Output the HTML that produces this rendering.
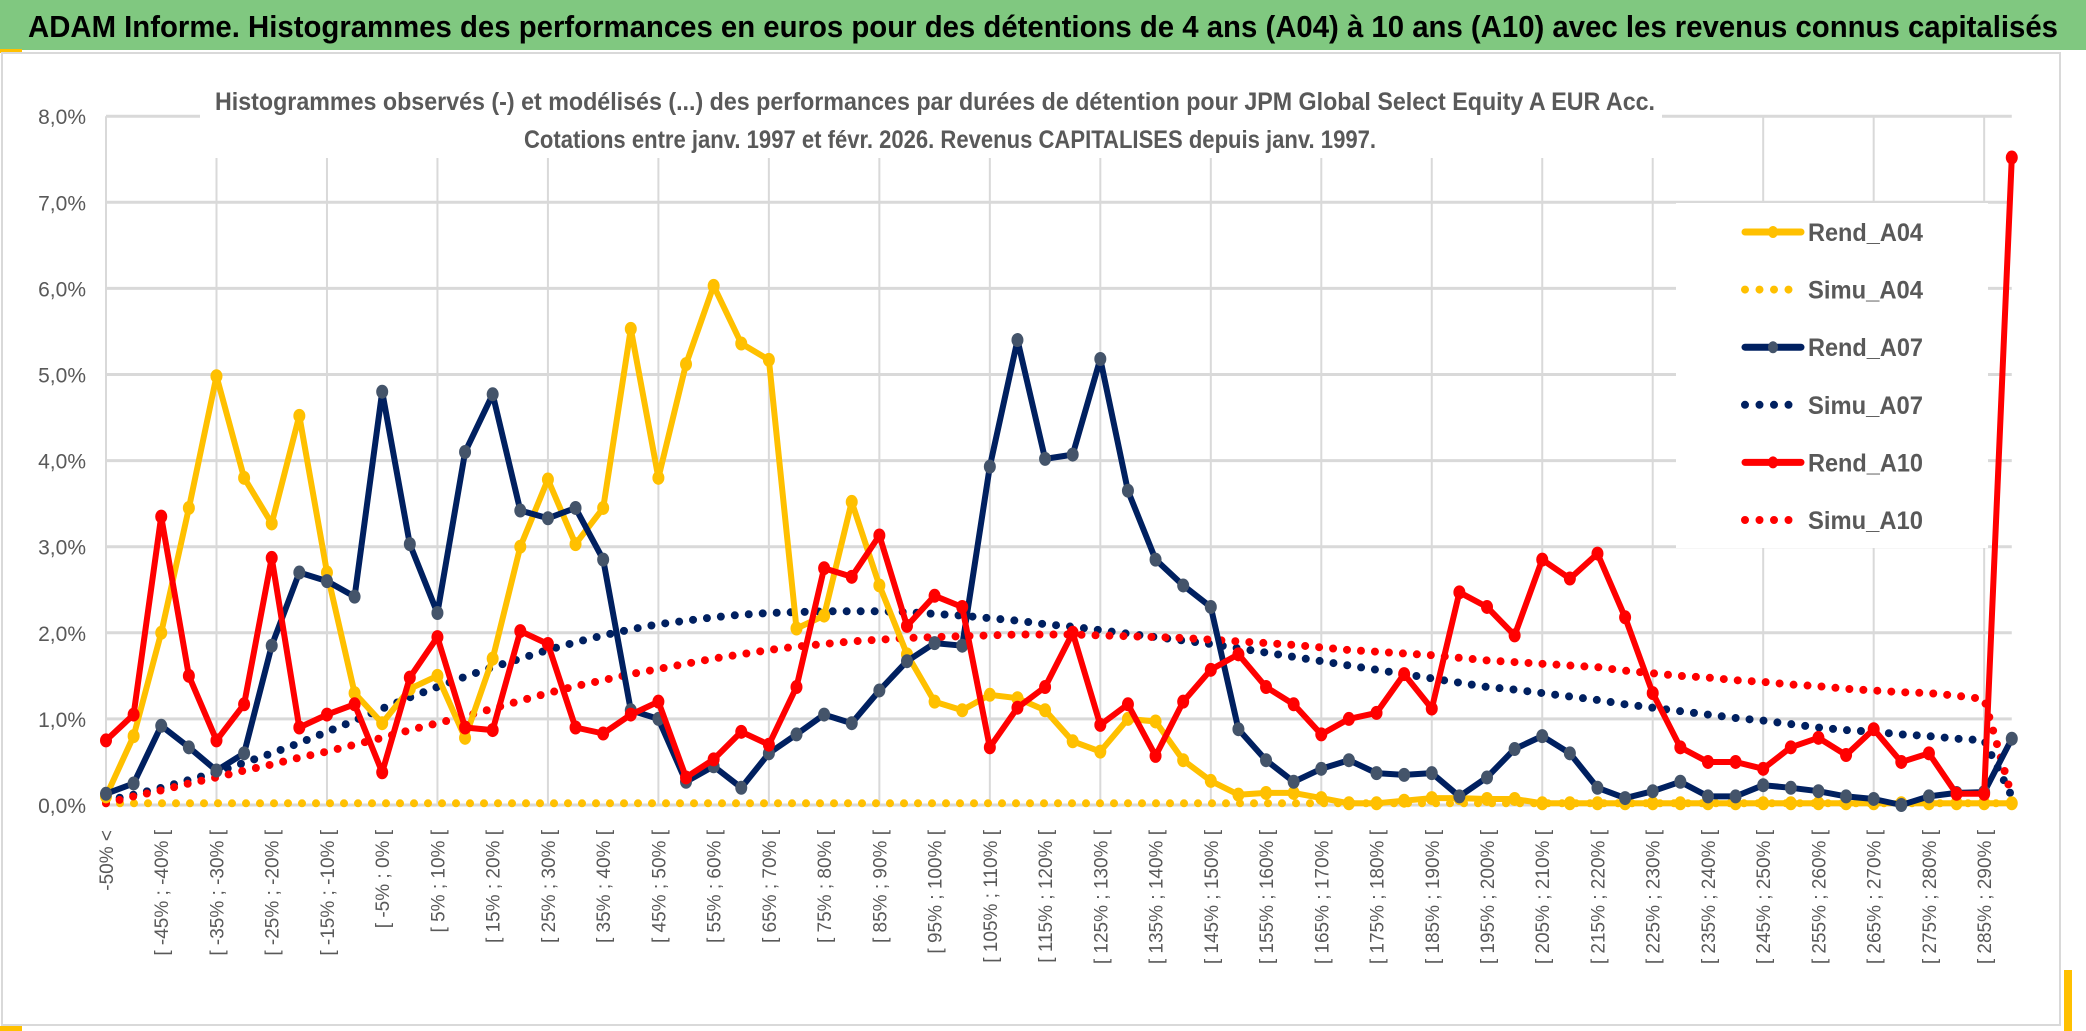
<!DOCTYPE html>
<html><head><meta charset="utf-8"><style>
html,body{margin:0;padding:0;background:#fff;}
svg{display:block;}
text{font-family:"Liberation Sans",sans-serif;}
</style></head><body>
<svg id="chart" width="2086" height="1031" viewBox="0 0 2086 1031" xmlns="http://www.w3.org/2000/svg">
<rect x="0" y="0" width="2086" height="1031" fill="#fff"/>
<rect x="0" y="0" width="2086" height="50" fill="#80C880"/>
<text x="1043" y="37" text-anchor="middle" font-size="31" font-weight="bold" fill="#000" textLength="2030" lengthAdjust="spacingAndGlyphs">ADAM Informe. Histogrammes des performances en euros pour des détentions de 4 ans (A04) à 10 ans (A10) avec les revenus connus capitalisés</text>
<rect x="0" y="49" width="22" height="4" fill="#FFC000"/>
<rect x="2" y="53" width="2058" height="972" fill="none" stroke="#D9D9D9" stroke-width="2"/>
<rect x="0" y="1026" width="22" height="5" fill="#FFC000"/>
<rect x="2064" y="970" width="8" height="61" fill="#FFC000"/>
<g id="grid"></g>
<rect x="200" y="84" width="1462" height="74" fill="#fff"/>
<text x="935" y="110" text-anchor="middle" font-size="25" font-weight="bold" fill="#595959" textLength="1440" lengthAdjust="spacingAndGlyphs">Histogrammes observés (-) et modélisés (...) des performances par durées de détention pour JPM Global Select Equity A EUR Acc.</text>
<text x="950" y="148" text-anchor="middle" font-size="25" font-weight="bold" fill="#595959" textLength="852" lengthAdjust="spacingAndGlyphs">Cotations entre janv. 1997 et févr. 2026. Revenus CAPITALISES depuis janv. 1997.</text>
<g id="axes"></g>
<g id="series"></g>
<g id="legend"></g>
</svg>
<script>
const catLower = [];
for (let i = 1; i < 70; i++) catLower.push(-55 + 5 * i);
const categories = ["-50% <"].concat(catLower.map(l => "[ " + l + "% ; " + (l + 5) + "% ["));
const yTicks = [0,1,2,3,4,5,6,7,8];
const yTickLabels = ["0,0%","1,0%","2,0%","3,0%","4,0%","5,0%","6,0%","7,0%","8,0%"];
const rendA04 = [0.1,0.8,2.0,3.45,4.98,3.8,3.27,4.52,2.7,1.3,0.95,1.35,1.5,0.78,1.7,3.0,3.78,3.03,3.45,5.53,3.8,5.12,6.03,5.36,5.17,2.05,2.2,3.52,2.55,1.75,1.2,1.1,1.28,1.24,1.1,0.74,0.62,1.0,0.97,0.52,0.28,0.12,0.14,0.14,0.08,0.02,0.02,0.05,0.08,0.08,0.07,0.07,0.02,0.02,0.02,0.02,0.02,0.02,0.02,0.02,0.02,0.02,0.02,0.02,0.02,0.02,0.02,0.02,0.02,0.02];
const simuA04 = [0.02,0.02,0.02,0.02,0.02,0.02,0.02,0.02,0.02,0.02,0.02,0.02,0.02,0.02,0.02,0.02,0.02,0.02,0.02,0.02,0.02,0.02,0.02,0.02,0.02,0.02,0.02,0.02,0.02,0.02,0.02,0.02,0.02,0.02,0.02,0.02,0.02,0.02,0.02,0.02,0.02,0.02,0.02,0.02,0.02,0.02,0.02,0.02,0.02,0.02,0.02,0.02,0.02,0.02,0.02,0.02,0.02,0.02,0.02,0.02,0.02,0.02,0.02,0.02,0.02,0.02,0.02,0.02,0.02,0.02];
const rendA07 = [0.13,0.25,0.92,0.67,0.4,0.6,1.85,2.7,2.6,2.42,4.8,3.03,2.23,4.1,4.77,3.42,3.33,3.45,2.85,1.1,1.0,0.27,0.45,0.2,0.6,0.82,1.05,0.95,1.33,1.67,1.88,1.85,3.93,5.4,4.02,4.07,5.18,3.65,2.85,2.55,2.3,0.88,0.52,0.27,0.42,0.52,0.37,0.35,0.37,0.1,0.32,0.65,0.8,0.6,0.2,0.08,0.16,0.27,0.1,0.1,0.23,0.2,0.16,0.1,0.07,0.0,0.1,0.14,0.15,0.77];
const simuA07 = [0.05,0.12,0.2,0.29,0.38,0.49,0.6,0.72,0.85,0.98,1.12,1.25,1.37,1.49,1.6,1.7,1.8,1.89,1.97,2.04,2.1,2.14,2.18,2.21,2.23,2.24,2.25,2.25,2.25,2.24,2.22,2.2,2.17,2.14,2.1,2.07,2.03,1.99,1.95,1.91,1.87,1.82,1.77,1.72,1.67,1.62,1.57,1.52,1.47,1.42,1.37,1.34,1.3,1.26,1.22,1.17,1.13,1.09,1.05,1.01,0.98,0.94,0.9,0.87,0.85,0.82,0.8,0.77,0.75,0.1];
const rendA10 = [0.75,1.05,3.35,1.5,0.75,1.17,2.87,0.9,1.05,1.17,0.38,1.48,1.95,0.9,0.87,2.02,1.87,0.9,0.83,1.05,1.2,0.32,0.53,0.85,0.7,1.37,2.75,2.65,3.13,2.08,2.43,2.3,0.67,1.13,1.37,2.0,0.93,1.17,0.57,1.2,1.57,1.75,1.37,1.17,0.82,1.0,1.07,1.52,1.12,2.47,2.3,1.97,2.85,2.63,2.92,2.18,1.3,0.67,0.5,0.5,0.42,0.67,0.78,0.58,0.88,0.5,0.6,0.13,0.13,7.52];
const simuA10 = [0.02,0.1,0.17,0.25,0.32,0.4,0.47,0.55,0.62,0.7,0.78,0.87,0.95,1.03,1.12,1.21,1.3,1.38,1.45,1.52,1.58,1.64,1.7,1.75,1.8,1.84,1.87,1.9,1.92,1.94,1.95,1.96,1.97,1.98,1.98,1.98,1.97,1.96,1.95,1.94,1.92,1.9,1.88,1.86,1.83,1.8,1.78,1.76,1.74,1.71,1.68,1.66,1.64,1.62,1.6,1.56,1.53,1.5,1.48,1.45,1.43,1.4,1.38,1.35,1.33,1.31,1.3,1.27,1.23,0.1];

const NS = "http://www.w3.org/2000/svg";
const X0 = 106, DX = 27.62, Y0 = 805, DY = 86.1;
function xScale(i){ return X0 + i * DX; }
function yScale(v){ return Y0 - v * DY; }
function mk(tag, attrs, parent){
  const e = document.createElementNS(NS, tag);
  for (const k in attrs) e.setAttribute(k, attrs[k]);
  parent.appendChild(e);
  return e;
}
const grid = document.getElementById("grid");
const axes = document.getElementById("axes");
const series = document.getElementById("series");
const legend = document.getElementById("legend");
const xEnd = xScale(categories.length - 1);

yTicks.forEach((t, k) => {
  const ln = mk("line", {x1: X0, x2: xEnd, y1: yScale(t), y2: yScale(t), stroke: "#D9D9D9", "stroke-width": 3}, grid);
  
  
  const tx = mk("text", {x: 86, y: yScale(t) + 8, "text-anchor": "end", "font-size": 21, fill: "#595959"}, axes);
  tx.textContent = yTickLabels[k];
  
  
});
for (let i = 0; i < categories.length; i += 4) {
  const ln = mk("line", {x1: xScale(i), x2: xScale(i), y1: yScale(8), y2: Y0, stroke: "#D9D9D9", "stroke-width": 2}, grid);
  
  
}
categories.forEach((c, i) => {
  if (i % 2 !== 0) return;
  const x = xScale(i), y = 830;
  const tx = mk("text", {x: x, y: y, transform: "rotate(-90 " + x + " " + y + ")", "text-anchor": "end", "font-size": 19, fill: "#595959", dy: 7}, axes);
  tx.textContent = c;
  
  
});

function pts(arr){ return arr.map((v, i) => xScale(i).toFixed(1) + "," + yScale(v).toFixed(1)).join(" "); }
function dotted(arr, color, name){
  const p = mk("polyline", {points: pts(arr), fill: "none", stroke: color, "stroke-width": 8, "stroke-linecap": "round", "stroke-dasharray": "0 14"}, series);
  
  
}
function solid(arr, color, mcolor, name){
  const g = mk("g", {}, series);
  
  
  const p = mk("polyline", {points: pts(arr), fill: "none", stroke: color, "stroke-width": 6, "stroke-linejoin": "round"}, g);
  
  
  arr.forEach((v, i) => {
    const c = mk("ellipse", {cx: xScale(i), cy: yScale(v), rx: 6, ry: 7, fill: mcolor}, g);
    
    
  });
}
dotted(simuA04, "#FFC000", "simu-a04-line");
dotted(simuA07, "#002060", "simu-a07-line");
dotted(simuA10, "#FF0000", "simu-a10-line");
solid(rendA04, "#FFC000", "#FFC000", "rend-a04");
solid(rendA07, "#002060", "#44546A", "rend-a07");
solid(rendA10, "#FF0000", "#FF0000", "rend-a10");

const legBox = mk("rect", {x: 1676, y: 203, width: 312, height: 345, fill: "#fff"}, legend);


const legNames = ["Rend_A04","Simu_A04","Rend_A07","Simu_A07","Rend_A10","Simu_A10"];
const legColors = ["#FFC000","#FFC000","#002060","#002060","#FF0000","#FF0000"];
const legMarker = ["#FFC000",null,"#44546A",null,"#FF0000",null];
legNames.forEach((n, k) => {
  const y = 232 + k * 57.6;
  const g = mk("g", {}, legend);
  
  
  if (legMarker[k]) {
    mk("line", {x1: 1745, x2: 1801, y1: y, y2: y, stroke: legColors[k], "stroke-width": 7, "stroke-linecap": "round"}, g);
    mk("ellipse", {cx: 1773, cy: y, rx: 5, ry: 6, fill: legMarker[k]}, g);
  } else {
    mk("line", {x1: 1745, x2: 1790, y1: y, y2: y, stroke: legColors[k], "stroke-width": 8, "stroke-linecap": "round", "stroke-dasharray": "0 14.5"}, g);
  }
  const t = mk("text", {x: 1808, y: y + 9, "font-size": 25, "font-weight": "bold", fill: "#595959", textLength: 115, lengthAdjust: "spacingAndGlyphs"}, g);
  t.textContent = n;
  
  
});
</script>
</body></html>
